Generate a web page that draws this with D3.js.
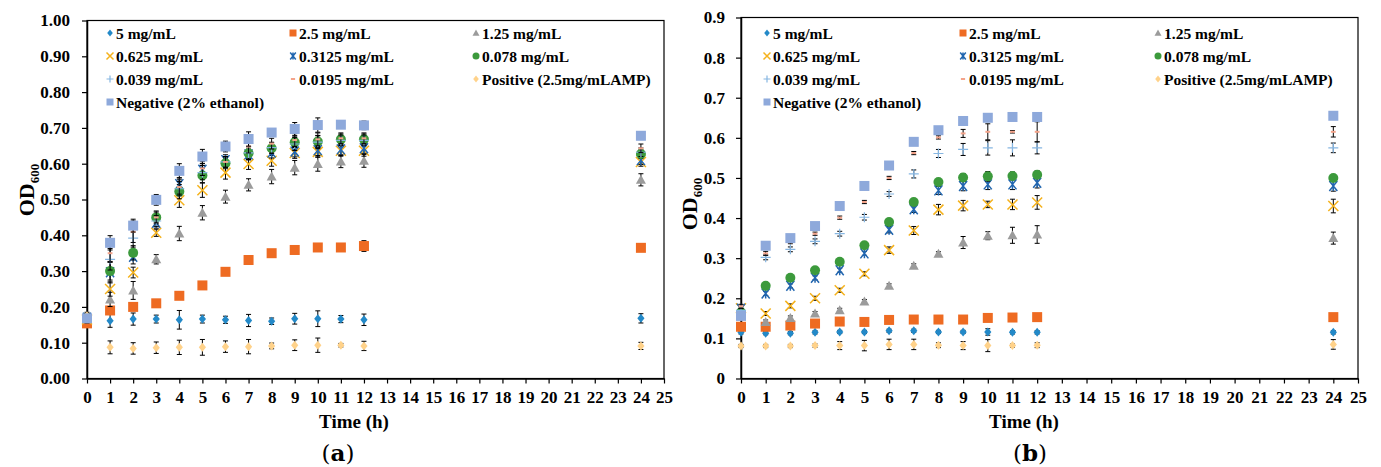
<!DOCTYPE html>
<html>
<head>
<meta charset="utf-8">
<script src="https://cdn.jsdelivr.net/npm/d3@7"></script>
<style>
  body { margin: 0; background: #fff; }
  svg { display: block; font-family: "Liberation Serif", "Times New Roman", serif; }
</style>
</head>
<body>
<div id="chart"></div>
<script>
// sampling times (h)
const hours = [0, 1, 2, 3, 4, 5, 6, 7, 8, 9, 10, 11, 12, 24];
const xTicks = d3.range(0, 26);

const seriesNames = ['5 mg/mL', '2.5 mg/mL', '1.25 mg/mL', '0.625 mg/mL', '0.3125 mg/mL',
    '0.078 mg/mL', '0.039 mg/mL', '0.0195 mg/mL', 'Positive (2.5mg/mLAMP)', 'Negative (2% ethanol)'];
const seriesColors = ['#2389c8', '#ee6b22', '#9b9b9b', '#f5b21c', '#2166b0',
    '#3c9a3c', '#86b6e2', '#f4a38a', '#ffd28a', '#8ea9db'];
const seriesMarkers = ['diamond', 'square', 'triangle', 'x', 'star', 'circle', 'plus', 'dash', 'diamond', 'square'];

// panel (a) OD600 means
const a5 = [0.165, 0.161, 0.166, 0.166, 0.164, 0.166, 0.164, 0.162, 0.160, 0.167, 0.167, 0.166, 0.164, 0.168];
const a25 = [0.154, 0.190, 0.200, 0.210, 0.231, 0.260, 0.298, 0.331, 0.350, 0.359, 0.366, 0.366, 0.370, 0.365];
const a125 = [0.170, 0.221, 0.246, 0.333, 0.405, 0.463, 0.508, 0.541, 0.564, 0.589, 0.599, 0.606, 0.608, 0.555];
const a0625 = [0.165, 0.250, 0.296, 0.407, 0.498, 0.526, 0.575, 0.599, 0.608, 0.630, 0.633, 0.636, 0.636, 0.605];
const a03125 = [0.170, 0.297, 0.340, 0.435, 0.543, 0.583, 0.610, 0.626, 0.631, 0.634, 0.638, 0.640, 0.643, 0.610];
const a0078 = [0.170, 0.300, 0.351, 0.450, 0.522, 0.567, 0.601, 0.629, 0.643, 0.660, 0.662, 0.668, 0.668, 0.627];
const a0039 = [0.170, 0.333, 0.392, 0.440, 0.530, 0.575, 0.605, 0.630, 0.645, 0.655, 0.660, 0.665, 0.665, 0.632];
const a00195 = [0.175, 0.350, 0.410, 0.450, 0.535, 0.587, 0.605, 0.648, 0.656, 0.666, 0.668, 0.671, 0.671, 0.643];
const aPos = [0.175, 0.087, 0.084, 0.086, 0.087, 0.087, 0.089, 0.089, 0.091, 0.093, 0.093, 0.093, 0.091, 0.091];
const aNeg = [0.168, 0.379, 0.427, 0.499, 0.580, 0.620, 0.648, 0.669, 0.687, 0.697, 0.708, 0.709, 0.707, 0.678];

// panel (a) error bars (+/-)
const a5Err = [0.005, 0.018, 0.017, 0.011, 0.026, 0.011, 0.010, 0.017, 0.009, 0.015, 0.022, 0.010, 0.016, 0.013];
const a25Err = [0.005, 0.006, 0.005, 0.005, 0.005, 0.006, 0.006, 0.010, 0.010, 0.006, 0.006, 0.006, 0.015, 0.005];
const a125Err = [0.010, 0.020, 0.025, 0.013, 0.020, 0.020, 0.018, 0.017, 0.020, 0.020, 0.020, 0.017, 0.018, 0.017];
const a0625Err = [0.010, 0.020, 0.015, 0.010, 0.020, 0.020, 0.018, 0.015, 0.015, 0.015, 0.015, 0.015, 0.015, 0.012];
const a03125Err = [0.010, 0.030, 0.020, 0.015, 0.018, 0.018, 0.015, 0.015, 0.015, 0.015, 0.015, 0.015, 0.015, 0.012];
const a0078Err = [0.010, 0.025, 0.020, 0.018, 0.020, 0.020, 0.015, 0.018, 0.015, 0.015, 0.017, 0.015, 0.015, 0.012];
const a0039Err = [0.010, 0.030, 0.025, 0.015, 0.020, 0.020, 0.015, 0.018, 0.015, 0.018, 0.018, 0.015, 0.015, 0.012];
const a00195Err = [0.010, 0.025, 0.030, 0.015, 0.020, 0.020, 0.015, 0.018, 0.015, 0.018, 0.018, 0.015, 0.015, 0.012];
const aPosErr = [0.005, 0.018, 0.016, 0.016, 0.020, 0.022, 0.016, 0.020, 0.008, 0.015, 0.020, 0.005, 0.013, 0.010];
const aNegErr = [0.008, 0.020, 0.018, 0.015, 0.020, 0.020, 0.015, 0.020, 0.010, 0.018, 0.020, 0.008, 0.012, 0.010];

// panel (b) OD600 means
const b5 = [0.115, 0.113, 0.113, 0.115, 0.116, 0.116, 0.119, 0.119, 0.116, 0.116, 0.116, 0.115, 0.115, 0.115];
const b25 = [0.129, 0.129, 0.132, 0.137, 0.142, 0.141, 0.146, 0.147, 0.147, 0.147, 0.151, 0.152, 0.153, 0.153];
const b125 = [0.165, 0.141, 0.151, 0.162, 0.170, 0.192, 0.231, 0.281, 0.311, 0.339, 0.356, 0.357, 0.359, 0.350];
const b0625 = [0.175, 0.162, 0.181, 0.200, 0.220, 0.261, 0.320, 0.369, 0.421, 0.431, 0.434, 0.434, 0.439, 0.430];
const b03125 = [0.174, 0.212, 0.231, 0.251, 0.270, 0.312, 0.371, 0.422, 0.469, 0.480, 0.484, 0.484, 0.488, 0.480];
const b0078 = [0.165, 0.231, 0.251, 0.270, 0.291, 0.332, 0.390, 0.440, 0.490, 0.501, 0.504, 0.505, 0.508, 0.500];
const b0039 = [0.170, 0.302, 0.322, 0.342, 0.361, 0.402, 0.460, 0.510, 0.561, 0.571, 0.575, 0.575, 0.575, 0.575];
const b00195 = [0.180, 0.312, 0.340, 0.361, 0.401, 0.440, 0.500, 0.562, 0.601, 0.611, 0.615, 0.615, 0.615, 0.615];
const bPos = [0.081, 0.081, 0.081, 0.082, 0.082, 0.082, 0.085, 0.085, 0.083, 0.082, 0.082, 0.082, 0.083, 0.085];
const bNeg = [0.156, 0.331, 0.350, 0.380, 0.430, 0.480, 0.531, 0.590, 0.619, 0.642, 0.650, 0.652, 0.652, 0.655];

// panel (b) error bars (+/-)
const b5Err = [0.004, 0.004, 0.004, 0.004, 0.004, 0.004, 0.004, 0.004, 0.004, 0.004, 0.008, 0.004, 0.004, 0.004];
const b25Err = [0.004, 0.004, 0.004, 0.004, 0.004, 0.004, 0.004, 0.004, 0.004, 0.004, 0.004, 0.004, 0.004, 0.004];
const b125Err = [0.005, 0.005, 0.005, 0.005, 0.005, 0.005, 0.005, 0.005, 0.005, 0.015, 0.010, 0.020, 0.022, 0.015];
const b0625Err = [0.005, 0.005, 0.005, 0.005, 0.005, 0.005, 0.008, 0.010, 0.013, 0.013, 0.008, 0.013, 0.017, 0.017];
const b03125Err = [0.005, 0.005, 0.005, 0.005, 0.005, 0.005, 0.008, 0.008, 0.010, 0.012, 0.013, 0.013, 0.013, 0.013];
const b0078Err = [0.005, 0.005, 0.005, 0.005, 0.005, 0.005, 0.005, 0.005, 0.005, 0.010, 0.012, 0.010, 0.010, 0.008];
const b0039Err = [0.005, 0.006, 0.006, 0.006, 0.006, 0.007, 0.006, 0.010, 0.010, 0.015, 0.018, 0.020, 0.015, 0.012];
const b00195Err = [0.005, 0.005, 0.004, 0.004, 0.004, 0.004, 0.004, 0.004, 0.004, 0.010, 0.020, 0.003, 0.025, 0.013];
const bPosErr = [0.004, 0.004, 0.004, 0.004, 0.010, 0.013, 0.013, 0.013, 0.006, 0.010, 0.015, 0.004, 0.006, 0.012];
const bNegErr = [0.004, 0.004, 0.004, 0.004, 0.004, 0.004, 0.004, 0.004, 0.004, 0.004, 0.004, 0.004, 0.004, 0.004];

const aTicks = d3.range(0, 11).map(d => d / 10);
const bTicks = d3.range(0, 10).map(d => d / 10);

const panels = [
    {
        id: 'a', left: 87, right: 664, top: 20.5, bottom: 378.5, yMax: 1.0, yTicks: aTicks,
        yFormat: d3.format('.2f'), yPad: 12, label: 'a', labelX: 338, titleX: 354, odX: 34, odY: 190,
        legendCols: [110, 293, 476],
        values: [a5, a25, a125, a0625, a03125, a0078, a0039, a00195, aPos, aNeg],
        errors: [a5Err, a25Err, a125Err, a0625Err, a03125Err, a0078Err, a0039Err, a00195Err, aPosErr, aNegErr]
    },
    {
        id: 'b', left: 741, right: 1358, top: 17.5, bottom: 378.5, yMax: 0.9, yTicks: bTicks,
        yFormat: d => d === 0 ? '0' : d3.format('.1f')(d), yPad: 11, label: 'b', labelX: 1030, titleX: 1024,
        odX: 697, odY: 204,
        legendCols: [767, 963, 1158],
        values: [b5, b25, b125, b0625, b03125, b0078, b0039, b00195, bPos, bNeg],
        errors: [b5Err, b25Err, b125Err, b0625Err, b03125Err, b0078Err, b0039Err, b00195Err, bPosErr, bNegErr]
    }
];

const legendRows = [33, 56, 79, 102];

const svg = d3.select('#chart').append('svg')
    .attr('width', 1381)
    .attr('height', 467);

// marker drawing, size in px
function drawMarker(g, type, color, s) {
    const h = s / 2;
    if (type === 'diamond') {
        g.append('path').attr('d', `M0,${-h}L${h * 0.8},0L0,${h}L${-h * 0.8},0Z`).attr('fill', color);
    } else if (type === 'square') {
        g.append('rect').attr('x', -h).attr('y', -h).attr('width', s).attr('height', s).attr('fill', color);
    } else if (type === 'triangle') {
        g.append('path').attr('d', `M0,${-h}L${h},${h * 0.8}L${-h},${h * 0.8}Z`).attr('fill', color);
    } else if (type === 'circle') {
        g.append('circle').attr('r', h).attr('fill', color);
    } else if (type === 'x') {
        g.append('path').attr('d', `M${-h},${-h}L${h},${h}M${h},${-h}L${-h},${h}`)
            .attr('stroke', color).attr('stroke-width', 1.5).attr('fill', 'none');
    } else if (type === 'star') {
        g.append('path').attr('d', `M${-h * 0.8},${-h}L${h * 0.8},${h}M${h * 0.8},${-h}L${-h * 0.8},${h}M0,${-h}L0,${h}`)
            .attr('stroke', color).attr('stroke-width', 1.5).attr('fill', 'none');
    } else if (type === 'plus') {
        g.append('path').attr('d', `M${-h},0L${h},0M0,${-h}L0,${h}`)
            .attr('stroke', color).attr('stroke-width', 1.2).attr('fill', 'none');
    } else if (type === 'dash') {
        g.append('path').attr('d', `M${-h * 0.6},0L${h * 0.6},0`)
            .attr('stroke', color).attr('stroke-width', 2).attr('fill', 'none');
    }
}

const markerSizes = [9, 10, 10, 10, 10, 10, 10, 8, 9, 10];

panels.forEach(p => {
    const x = d3.scaleLinear().domain([0, 25]).range([p.left, p.right]);
    const y = d3.scaleLinear().domain([0, p.yMax]).range([p.bottom, p.top]);
    const g = svg.append('g').attr('class', 'panel-' + p.id);

    // frame
    g.append('rect')
        .attr('x', p.left).attr('y', p.top)
        .attr('width', p.right - p.left).attr('height', p.bottom - p.top)
        .attr('fill', 'none').attr('stroke', '#000').attr('stroke-width', 1.2);

    // axes
    const xAxis = d3.axisBottom(x).tickValues(xTicks).tickSize(5).tickSizeOuter(0).tickPadding(7);
    const yAxis = d3.axisLeft(y).tickValues(p.yTicks).tickFormat(p.yFormat).tickSize(5).tickSizeOuter(0).tickPadding(p.yPad);

    const gx = g.append('g').attr('transform', `translate(0,${p.bottom})`).call(xAxis);
    const gy = g.append('g').attr('transform', `translate(${p.left},0)`).call(yAxis);
    [gx, gy].forEach(ax => {
        ax.select('.domain').attr('stroke', '#000').attr('stroke-width', 1.5);
        ax.selectAll('.tick line').attr('stroke', '#000').attr('stroke-width', 1.2);
        ax.selectAll('.tick text')
            .attr('fill', '#000')
            .style('font-family', '"Liberation Serif", serif')
            .style('font-size', '17px')
            .style('font-weight', 'bold');
    });

    // data: error bars then markers, series in order
    p.values.forEach((vals, si) => {
        const sg = g.append('g').attr('class', 'series');
        const errs = p.errors[si];
        vals.forEach((v, i) => {
            const cx = x(hours[i]);
            const e = errs[i];
            sg.append('path')
                .attr('d', `M${cx},${y(v - e)}L${cx},${y(v + e)}M${cx - 2.5},${y(v + e)}L${cx + 2.5},${y(v + e)}M${cx - 2.5},${y(v - e)}L${cx + 2.5},${y(v - e)}`)
                .attr('stroke', '#000').attr('stroke-width', 1).attr('fill', 'none');
        });
        vals.forEach((v, i) => {
            const mg = sg.append('g').attr('transform', `translate(${x(hours[i])},${y(v)})`);
            drawMarker(mg, seriesMarkers[si], seriesColors[si], markerSizes[si]);
        });
    });

    // legend
    seriesNames.forEach((name, si) => {
        const col = si % 3;
        const row = Math.floor(si / 3);
        const lx = p.legendCols[col];
        const ly = legendRows[row];
        const lg = g.append('g').attr('transform', `translate(${lx},${ly})`);
        drawMarker(lg, seriesMarkers[si], seriesColors[si], 7);
        lg.append('text')
            .attr('x', 6).attr('y', 5.5)
            .style('font-size', '15.5px').style('font-weight', 'bold')
            .text(name);
    });

    // axis titles
    g.append('text')
        .attr('x', p.titleX).attr('y', 428)
        .attr('text-anchor', 'middle')
        .style('font-size', '19px').style('font-weight', 'bold')
        .text('Time (h)');

    const od = g.append('text')
        .attr('transform', `translate(${p.odX},${p.odY}) rotate(-90)`)
        .attr('text-anchor', 'middle')
        .style('font-size', '22px').style('font-weight', 'bold');
    od.append('tspan').text('OD');
    od.append('tspan').attr('dy', 5).style('font-size', '13px').text('600');

    // panel letter
    const lab = g.append('text')
        .attr('x', p.labelX).attr('y', 461)
        .attr('text-anchor', 'middle')
        .style('font-size', '23px')
        .style('font-family', '"DejaVu Serif", "Liberation Serif", serif');
    lab.append('tspan').text('(');
    lab.append('tspan').style('font-weight', 'bold').text(p.label);
    lab.append('tspan').text(')');
});
</script>
</body>
</html>
